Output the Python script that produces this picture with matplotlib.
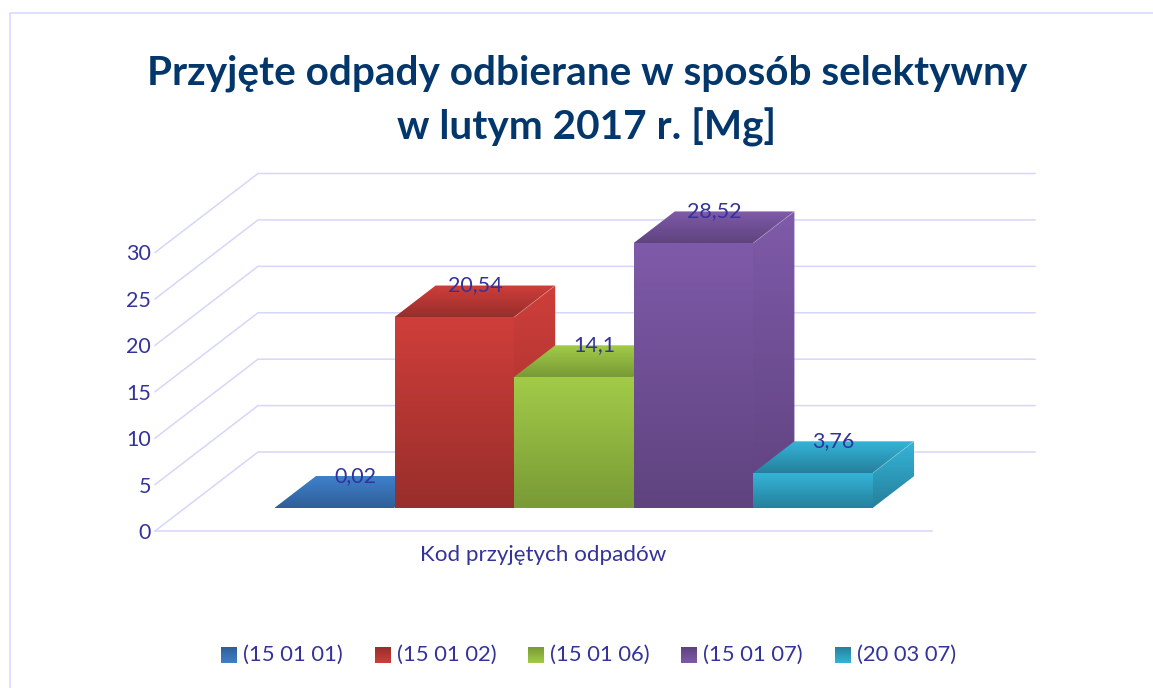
import numpy as np
import matplotlib
matplotlib.use("Agg")
import matplotlib.pyplot as plt
from matplotlib.colors import to_rgb
from matplotlib.patches import Polygon

# ── Data ──────────────────────────────────────────────────────────────────────
CODES = ["(15 01 01)", "(15 01 02)", "(15 01 06)", "(15 01 07)", "(20 03 07)"]
VALUES = [0.02, 20.54, 14.1, 28.52, 3.76]
VALUE_LABELS = ["0,02", "20,54", "14,1", "28,52", "3,76"]
Y_TICKS = [0, 5, 10, 15, 20, 25, 30]

TITLE = "Przyjęte odpady odbierane w sposób selektywny\nw lutym 2017 r. [Mg]"
X_LABEL = "Kod przyjętych odpadów"

# ── Config ────────────────────────────────────────────────────────────────────
W, H = 1153, 688
FONT = "Lato"
TEXT_COLOR = "#33339b"
TITLE_COLOR = "#03376b"
GRID_COLOR = "#d6d6fb"

# light / dark end of the gradient for each bar
LIGHT = ["#3f80cc", "#cf3e3a", "#a2cb48", "#7f5aa9", "#35b4d8"]
DARK = ["#2f5f98", "#982e2b", "#799a36", "#5f437f", "#25809c"]

# plot box in pixels (front edge of the floor, value 0 to 30)
BOX_LEFT, BOX_RIGHT = 155, 932
BOX_BOTTOM, BOX_TOP = 531, 252.5
BAR_LEFT, BAR_WIDTH = 275, 119.6

# depth offsets, in category units / value units
PX_PER_VAL = (BOX_BOTTOM - BOX_TOP) / 30
WALL_DX, WALL_DY = 103 / BAR_WIDTH, 79 / PX_PER_VAL
BAR_DX, BAR_DY = 41 / BAR_WIDTH, 31.5 / PX_PER_VAL
BASE = 23.3 / PX_PER_VAL
OVERLAP = 0.02

LEGEND_X = [221, 375, 528, 681, 835]

plt.rcParams["font.family"] = [FONT, "DejaVu Sans"]

fig = plt.figure(figsize=(W / 100, H / 100), dpi=100, facecolor="white")

# ── Full-figure layer for frame, title, legend ────────────────────────────────
bg = fig.add_axes([0, 0, 1, 1])
bg.set_xlim(0, W)
bg.set_ylim(H, 0)
bg.axis("off")

bg.plot([9.5, 9.5, W], [H, 12.8, 12.8], color="#d6d6ff", lw=1.1)
bg.text(587, 101, TITLE, ha="center", va="center", fontsize=29.2,
        fontweight="bold", color=TITLE_COLOR, linespacing=1.5)
bg.text(543.5, 555, X_LABEL, ha="center", va="center", fontsize=16.1,
        color=TEXT_COLOR)


def gradient_poly(ax, pts, y_top, y_bot, light, dark, zorder):
    """Fill a polygon with a vertical gradient running from light to dark."""
    xs = [p[0] for p in pts]
    ramp = np.linspace(0, 1, 64)[:, None, None]
    img = np.array(to_rgb(light))[None, None, :] * (1 - ramp) \
        + np.array(to_rgb(dark))[None, None, :] * ramp
    top, bot = max(y_top, y_bot), min(y_top, y_bot)
    im = ax.imshow(img, extent=(min(xs), max(xs), bot, top), origin="upper",
                   aspect="auto", zorder=zorder, interpolation="bilinear")
    patch = Polygon(pts, closed=True, transform=ax.transData, fc="none", ec="none")
    im.set_clip_box(fig.bbox)
    im.set_clip_path(patch)


for x0, label, light, dark in zip(LEGEND_X, CODES, LIGHT, DARK):
    gradient_poly(bg, [(x0, 647), (x0 + 16, 647), (x0 + 16, 663), (x0, 663)],
                  663, 647, light, dark, 3)
    bg.text(x0 + 22, 655, label, ha="left", va="center", fontsize=15.8,
            color=TEXT_COLOR)

bg.set_xlim(0, W)
bg.set_ylim(H, 0)

# ── Chart axes: x in category units, y in value units ─────────────────────────
ax = fig.add_axes([BOX_LEFT / W, 1 - BOX_BOTTOM / H,
                   (BOX_RIGHT - BOX_LEFT) / W, (BOX_BOTTOM - BOX_TOP) / H])
ax.patch.set_alpha(0)
xlim = ((BOX_LEFT - BAR_LEFT) / BAR_WIDTH, (BOX_RIGHT - BAR_LEFT) / BAR_WIDTH)

# gridlines: floor, walls
ax.plot(xlim, [0, 0], color=GRID_COLOR, lw=1.1, zorder=1, clip_on=False)
for tick in Y_TICKS:
    ax.plot([xlim[0], xlim[0] + WALL_DX, xlim[1] + WALL_DX],
            [tick, tick + WALL_DY, tick + WALL_DY],
            color=GRID_COLOR, lw=1.1, zorder=1, clip_on=False)

# bars, painted left to right so each one covers its left neighbour's side
for i, value in enumerate(VALUES):
    x0, x1 = i, i + 1
    y0, y1 = BASE, BASE + value
    light, dark = LIGHT[i], DARK[i]
    z = 2 + i

    # side and top reach a little under the front face so no seam shows
    side = [(x1 - OVERLAP, y0), (x1, y0), (x1 + BAR_DX, y0 + BAR_DY),
            (x1 + BAR_DX, y1 + BAR_DY), (x1, y1), (x1 - OVERLAP, y1)]
    gradient_poly(ax, side, y1 + BAR_DY, y0, light, dark, z)

    top = [(x0, y1 - 0.2), (x1, y1 - 0.2), (x1, y1),
           (x1 + BAR_DX, y1 + BAR_DY), (x0 + BAR_DX, y1 + BAR_DY), (x0, y1)]
    gradient_poly(ax, top, y1 + BAR_DY, y1, light, dark, z + 0.1)

    front = [(x0, y0), (x1, y0), (x1, y1), (x0, y1)]
    gradient_poly(ax, front, y1, y0, light, dark, z + 0.2)

    # thin highlight along the top/side edge
    ax.plot([x1, x1 + BAR_DX], [y1, y1 + BAR_DY], color="white", alpha=0.2,
            lw=0.7, zorder=z + 0.3, clip_on=False)

# value labels sit over the back edge of each bar
for i, (value, label) in enumerate(zip(VALUES, VALUE_LABELS)):
    ax.text(i + 0.5 + BAR_DX / 2, BASE + value + BAR_DY, label, ha="center",
            va="center", fontsize=15.5, color=TEXT_COLOR, zorder=20, clip_on=False)

ax.set_xlim(xlim)
ax.set_ylim(0, 30)
ax.set_xticks([])
ax.set_yticks(Y_TICKS)
ax.set_yticklabels([str(t) for t in Y_TICKS], fontsize=15.5, color=TEXT_COLOR)
ax.tick_params(axis="y", length=0, pad=3)
for spine in ax.spines.values():
    spine.set_visible(False)

fig.savefig("out.png", dpi=100, facecolor="white")
